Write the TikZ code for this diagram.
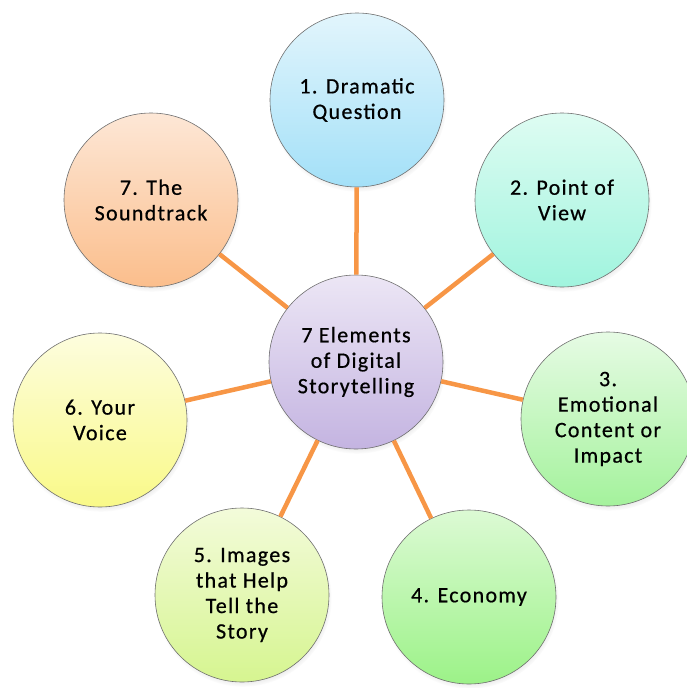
\documentclass[tikz,border=0pt]{standalone}
\usepackage{fontspec}
\setmainfont{Carlito}[LetterSpace=6, FakeBold=0.6]
\usetikzlibrary{shadows}

\definecolor{linkorange}{HTML}{F79646}
\definecolor{rimgray}{HTML}{6E6E6E}

\tikzset{
  bubble/.style={circle, minimum size=174pt, inner sep=0pt, align=center,
    draw=rimgray, line width=0.6pt, text=black,
    font=\fontsize{22}{25.5}\selectfont,
    circular drop shadow={shadow xshift=1pt, shadow yshift=-3pt, shadow scale=1.02, opacity=0.35}},
  link/.style={draw=linkorange, line width=4.5pt}
}

\begin{document}
\begin{tikzpicture}[x=1pt, y=-1pt]
  \useasboundingbox (0,0) rectangle (686,688);

  \node[bubble, top color={rgb,255:red,236;green,230;blue,245}, bottom color={rgb,255:red,196;green,180;blue,225}]
    (hub) at (356,362) {7 Elements\\of Digital\\Storytelling};

  \node[bubble, top color={rgb,255:red,226;green,245;blue,252}, bottom color={rgb,255:red,163;green,224;blue,248}]
    (q) at (357,100) {1. Dramatic\\Question};
  \node[bubble, top color={rgb,255:red,222;green,252;blue,242}, bottom color={rgb,255:red,160;green,244;blue,222}]
    (pov) at (562,200) {2. Point of\\View};
  \node[bubble, top color={rgb,255:red,230;green,251;blue,228}, bottom color={rgb,255:red,164;green,242;blue,156}]
    (emo) at (608,419) {3.\\Emotional\\Content or\\Impact};
  \node[bubble, top color={rgb,255:red,220;green,250;blue,212}, bottom color={rgb,255:red,156;green,242;blue,136}]
    (eco) at (469,597) {4. Economy};
  \node[bubble, top color={rgb,255:red,243;green,251;blue,218}, bottom color={rgb,255:red,214;green,245;blue,144}]
    (img) at (242,595) {5. Images\\that Help\\Tell the\\Story};
  \node[bubble, top color={rgb,255:red,253;green,253;blue,222}, bottom color={rgb,255:red,249;green,249;blue,136}]
    (voice) at (100,420) {6. Your\\Voice};
  \node[bubble, top color={rgb,255:red,253;green,231;blue,214}, bottom color={rgb,255:red,251;green,190;blue,140}]
    (snd) at (151,200) {7. The\\Soundtrack};

  \foreach \n in {q,pov,emo,eco,img,voice,snd}
    \draw[link] (hub) -- (\n);
\end{tikzpicture}
\end{document}
